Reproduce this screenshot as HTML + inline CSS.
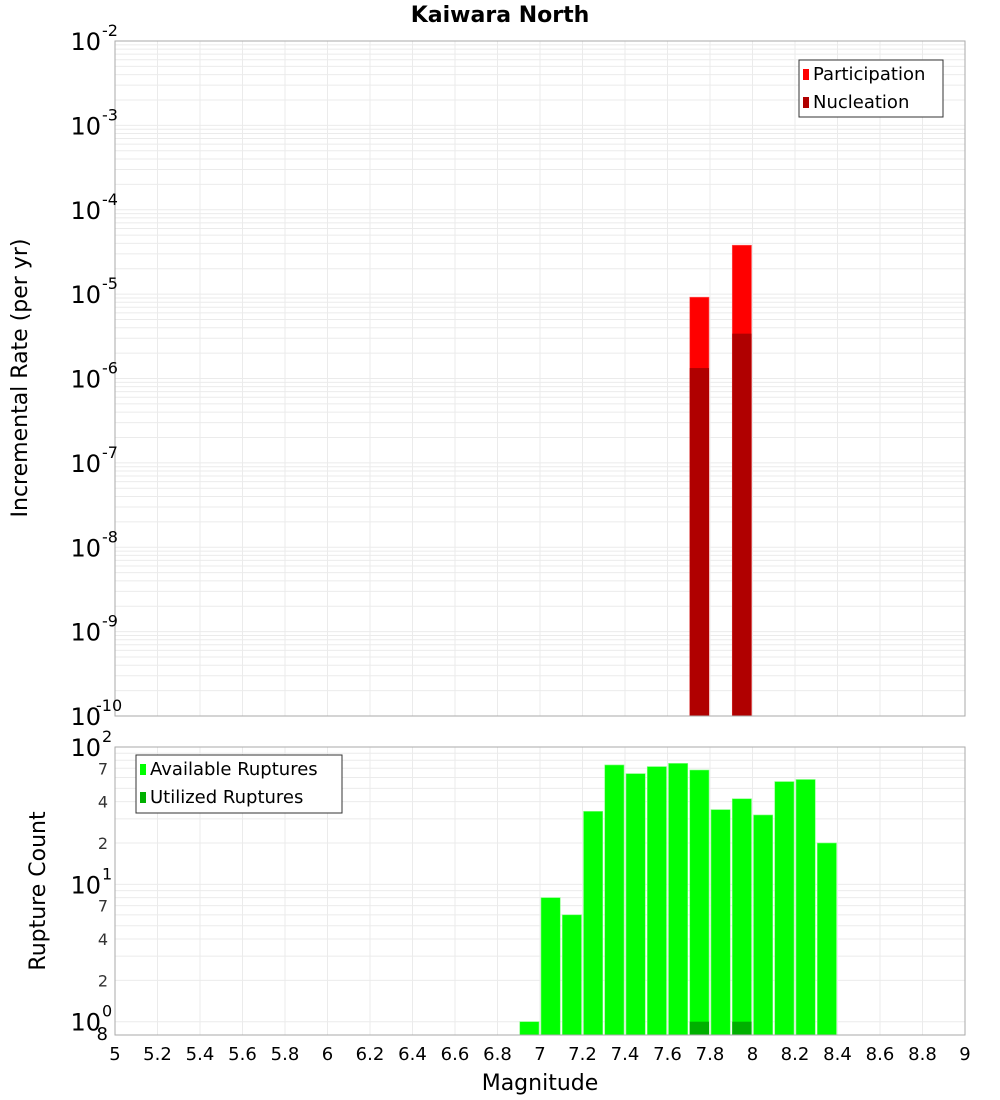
<!DOCTYPE html>
<html><head><meta charset="utf-8">
<style>
html,body{margin:0;padding:0;background:#fff;}
svg{display:block;font-family:"DejaVu Sans","Liberation Sans",sans-serif;}
</style></head>
<body>
<svg id="chart" width="1000" height="1100" viewBox="0 0 1000 1100" xmlns="http://www.w3.org/2000/svg">
<text x="500" y="22" text-anchor="middle" font-size="22" font-weight="bold">Kaiwara North</text>
<text transform="translate(27,378) rotate(-90)" text-anchor="middle" font-size="22">Incremental Rate (per yr)</text>
<text transform="translate(45,891) rotate(-90)" text-anchor="middle" font-size="22">Rupture Count</text>
<text x="540" y="1090" text-anchor="middle" font-size="22">Magnitude</text>
<g id="g"></g>
</svg>
<script>
const binCenters = [6.95,7.05,7.15,7.25,7.35,7.45,7.55,7.65,7.75,7.85,7.95,8.05,8.15,8.25,8.35];
const availableCounts = [1,8,6,34,74,64,72,76,68,35,42,32,56,58,20];
const utilizedMags = [7.75,7.95];
const utilizedCounts = [1,1];
const rateMags = [7.75,7.95];
const participationRates = [9.2e-6,3.8e-5];
const nucleationRates = [1.33e-6,3.4e-6];
const xTicks = [5,5.2,5.4,5.6,5.8,6,6.2,6.4,6.6,6.8,7,7.2,7.4,7.6,7.8,8,8.2,8.4,8.6,8.8,9];

const NS="http://www.w3.org/2000/svg";
const g=document.getElementById('g');
function el(tag,attrs,parent){const e=document.createElementNS(NS,tag);for(const k in attrs)e.setAttribute(k,attrs[k]);(parent||g).appendChild(e);return e;}
const X0=115,X1=965;
const x=m=>X0+(m-5)/(9-5)*(X1-X0);
const T0=41,T1=716;
const yTop=v=>T0+(-2-Math.log10(v))/8*(T1-T0);
const B0=747,B1=1035,Bmin=0.8,Bmax=100;
const yBot=v=>B0+(Math.log10(Bmax)-Math.log10(v))/(Math.log10(Bmax)-Math.log10(Bmin))*(B1-B0);
const binW=x(5.1)-x(5);

// top grid
for(let e=-10;e<-2;e++){for(let k=1;k<10;k++){const v=k*Math.pow(10,e);const yy=yTop(v);
 const l=el('line',{x1:X0,x2:X1,y1:yy,y2:yy,stroke:'#ebebeb','stroke-width':1});
 }}
// bottom grid
[1,2,3,4,5,6,7,8,9,10,20,30,40,50,60,70,80,90].forEach(v=>{const yy=yBot(v);
 const l=el('line',{x1:X0,x2:X1,y1:yy,y2:yy,stroke:'#ebebeb','stroke-width':1});
 });
xTicks.forEach(t=>{[[T0,T1],[B0,B1]].forEach(r=>{
 const l=el('line',{x1:x(t),x2:x(t),y1:r[0],y2:r[1],stroke:'#ebebeb','stroke-width':1});
 });});

// top bars
rateMags.forEach((m,i)=>{
 const xl=x(m)-binW/2+1, w=binW-2;
 const p=el('rect',{x:xl,y:yTop(participationRates[i]),width:w,height:T1-yTop(participationRates[i]),fill:'#ff0000',stroke:'#ff6060','stroke-width':0.6});
 
 const n=el('rect',{x:xl,y:yTop(nucleationRates[i]),width:w,height:T1-yTop(nucleationRates[i]),fill:'#b00000'});
 
});
// bottom bars
binCenters.forEach((m,i)=>{
 const xl=x(m)-binW/2+1, w=binW-2;
 const r=el('rect',{x:xl,y:yBot(availableCounts[i]),width:w,height:B1-yBot(availableCounts[i]),fill:'#00ff00',stroke:'#80ff80','stroke-width':0.6});
 
});
utilizedMags.forEach((m,i)=>{
 const xl=x(m)-binW/2+1, w=binW-2;
 const r=el('rect',{x:xl,y:yBot(utilizedCounts[i]),width:w,height:B1-yBot(utilizedCounts[i]),fill:'#00b000'});
 
});

// frames
[[T0,T1,'top-plot-frame'],[B0,B1,'bottom-plot-frame']].forEach(r=>{
 const f=el('rect',{x:X0,y:r[0],width:X1-X0,height:r[1]-r[0],fill:'none',stroke:'#aaaaaa','stroke-width':1});
 });

function powLabel(yy,exp,name){
 const t=el('text',{x:101,y:yy+9,'text-anchor':'end','font-size':24});t.textContent='10';
 
 const s=el('text',{x:102,y:yy-5,'text-anchor':'start','font-size':16});s.textContent=exp;
 
 if(exp.length>2){s.setAttribute('x',96);}
}
for(let e=-10;e<=-2;e++)powLabel(yTop(Math.pow(10,e)),String(e),'top-y-tick-label');
[[100,'2'],[10,'1'],[1,'0']].forEach(a=>powLabel(yBot(a[0]),a[1],'bottom-y-tick-label'));
[2,4,7,20,40,70].forEach(v=>{
 const t=el('text',{x:108,y:yBot(v)+6,'text-anchor':'end','font-size':16,fill:'#333'});t.textContent=String(v)[0];
 });
{const t=el('text',{x:108,y:1040,'text-anchor':'end','font-size':18});t.textContent='8';
 }
xTicks.forEach(t=>{
 const tx=el('text',{x:x(t),y:1060,'text-anchor':'middle','font-size':18});
 tx.textContent=String(Math.round(t*10)/10);
 });

// legends
function legend(x0,y0,w,h,items,name){
 const lg=el('g',{});
 el('rect',{x:x0,y:y0,width:w,height:h,fill:'#fff',stroke:'#333','stroke-width':1},lg);
 items.forEach((it,i)=>{
  const sw=el('rect',{x:x0+4,y:y0+9+i*28,width:6,height:11,fill:it[1]},lg);
  
  const t=el('text',{x:x0+14,y:y0+20+i*28,'font-size':18},lg);t.textContent=it[0];
  });
}
legend(799,60,144,57,[['Participation','#ff0000'],['Nucleation','#b00000']],'top-legend');
legend(136,755,206,58,[['Available Ruptures','#00ff00'],['Utilized Ruptures','#00b000']],'bottom-legend');
</script>
</body></html>
